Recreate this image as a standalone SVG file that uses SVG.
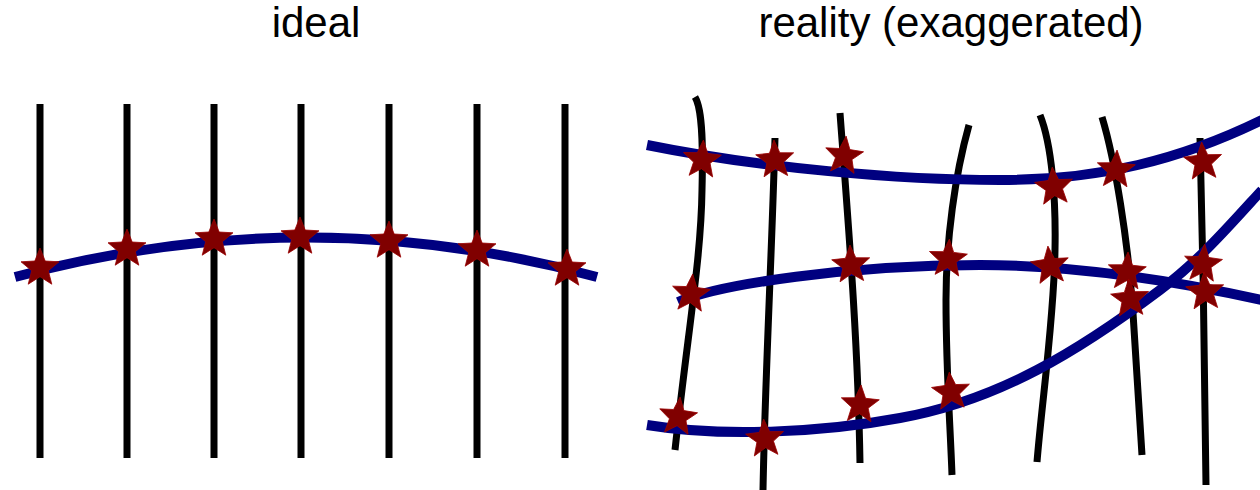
<svg xmlns="http://www.w3.org/2000/svg" width="1260" height="490" viewBox="0 0 1260 490">
<style>
.title{font-family:"Liberation Sans",Arial,sans-serif;font-size:42px;fill:#000;text-anchor:middle}
.grid{fill:none;stroke:#000;stroke-width:7}
.curve{fill:none;stroke:#000080;stroke-width:10}
.star{fill:#800000;stroke:#990000;stroke-width:0.8}
</style>
<defs>
<path id="star" class="star" d="M0,-20 L5.2,-7 L19,-6.2 L8.3,2.7 L11.8,16.2 L0,8.7 L-11.8,16.2 L-8.3,2.7 L-19,-6.2 L-5.2,-7 Z"/>
</defs>
<text class="title" x="316" y="37">ideal</text>
<text class="title" x="951" y="37">reality (exaggerated)</text>
<g id="ideal">
<g id="ideal-lines">
<line class="grid" x1="40" y1="104" x2="40" y2="458"/>
<line class="grid" x1="127" y1="104" x2="127" y2="458"/>
<line class="grid" x1="214" y1="104" x2="214" y2="458"/>
<line class="grid" x1="301" y1="104" x2="301" y2="458"/>
<line class="grid" x1="389" y1="104" x2="389" y2="458"/>
<line class="grid" x1="477" y1="104" x2="477" y2="458"/>
<line class="grid" x1="565" y1="104" x2="565" y2="458"/>
</g>
<path class="curve" d="M15,277 Q306,198 597,277"/>
<g id="ideal-stars">
<use href="#star" x="40" y="268"/>
<use href="#star" x="127" y="249"/>
<use href="#star" x="214" y="239"/>
<use href="#star" x="300" y="237"/>
<use href="#star" x="389" y="241"/>
<use href="#star" x="477" y="250"/>
<use href="#star" x="567" y="269"/>
</g>
</g>
<g id="reality">
<g id="reality-lines">
<path class="grid" d="M695,97 C703,110 703,150 702,190 C701,260 688,330 675,450"/>
<path class="grid" d="M775,138 C772,250 765,380 763,490"/>
<path class="grid" d="M840,113 C848,220 858,340 860,463"/>
<path class="grid" d="M969,125 C955,175 946,240 946,300 C946,370 950,420 952,475"/>
<path class="grid" d="M1040,115 C1052,145 1056,200 1055,250 C1054,320 1042,400 1037,462"/>
<path class="grid" d="M1102,117 C1115,160 1128,240 1133,313 C1137,370 1140,420 1142,455"/>
<path class="grid" d="M1200,138 C1203,250 1205,380 1206,485"/>
</g>
<g id="reality-curves">
<path class="curve" d="M647,145 C760,168 900,180 1000,180 C1100,180 1180,160 1262,120"/>
<path class="curve" d="M678,302 C720,284 850,265 980,265 C1080,265 1180,282 1262,300"/>
<path class="curve" d="M647,425 C720,437 820,433 900,418 C1000,400 1080,350 1160,290 C1200,260 1230,225 1262,190"/>
</g>
<g id="reality-stars">
<use href="#star" transform="translate(702,160) rotate(4)"/>
<use href="#star" transform="translate(775,160) rotate(-3)"/>
<use href="#star" transform="translate(844,156) rotate(6)"/>
<use href="#star" transform="translate(1054,187) rotate(-5)"/>
<use href="#star" transform="translate(1116,170) rotate(3)"/>
<use href="#star" transform="translate(1203,162) rotate(-4)"/>
<use href="#star" transform="translate(691,294) rotate(5)"/>
<use href="#star" transform="translate(851,265) rotate(-3)"/>
<use href="#star" transform="translate(948,259) rotate(4)"/>
<use href="#star" transform="translate(1050,266) rotate(-6)"/>
<use href="#star" transform="translate(1127,272) rotate(3)"/>
<use href="#star" transform="translate(1130,299) rotate(-4)"/>
<use href="#star" transform="translate(1203,264) rotate(5)"/>
<use href="#star" transform="translate(1205,292) rotate(-3)"/>
<use href="#star" transform="translate(678,417) rotate(6)"/>
<use href="#star" transform="translate(765,439) rotate(-4)"/>
<use href="#star" transform="translate(860,405) rotate(3)"/>
<use href="#star" transform="translate(951,392) rotate(-5)"/>
</g>
</g>
</svg>
